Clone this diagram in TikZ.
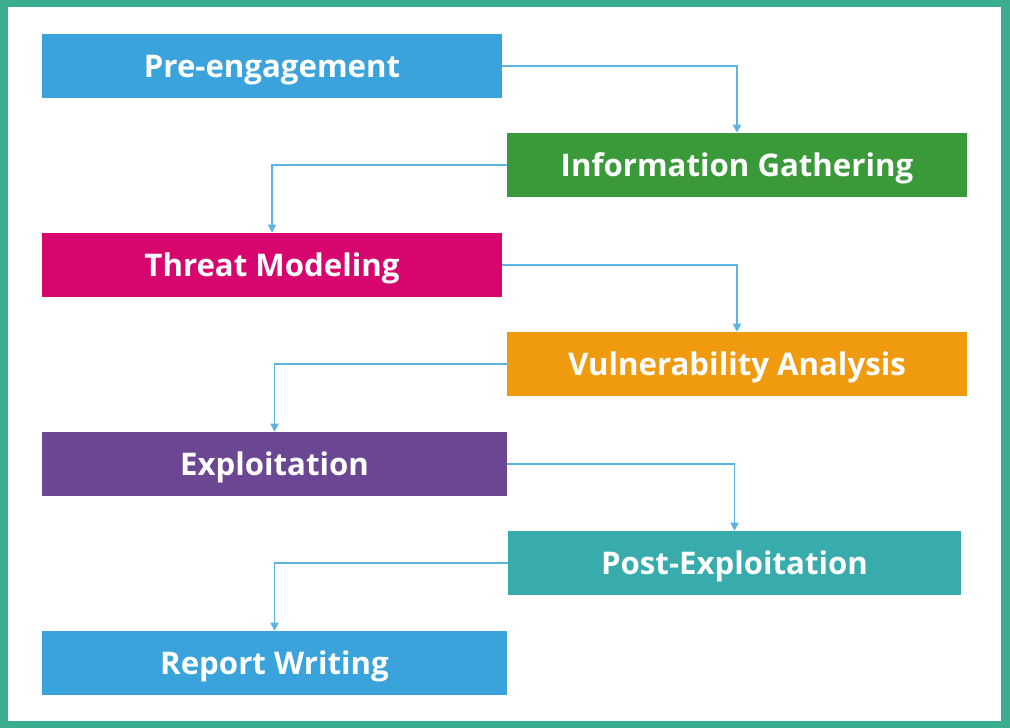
\documentclass[tikz,border=0pt]{standalone}
\usepackage{fontspec}
\setmainfont{Open Sans}
\usetikzlibrary{arrows.meta}
\definecolor{frame}{HTML}{3AAE8F}
\definecolor{cblue}{HTML}{3AA3DB}
\definecolor{cgreen}{HTML}{3A9A3A}
\definecolor{cmagenta}{HTML}{D6066E}
\definecolor{corange}{HTML}{F09A10}
\definecolor{cpurple}{HTML}{6B4793}
\definecolor{cteal}{HTML}{38ACAC}
\definecolor{cline}{HTML}{5DB3E3}
\begin{document}
\begin{tikzpicture}[x=0.75pt,y=-0.75pt,
        phase/.style={fill=#1,minimum width=345pt,minimum height=48pt,inner sep=0pt,
            text depth=0pt,text=white,font=\bfseries\fontsize{23.4}{28}\selectfont},
        link/.style={cline,line width=1.1pt,-{Triangle[length=6pt,width=6pt]}}]
        %% Frame
        \fill[frame] (0,0) rectangle (1010,728);
        \fill[white] (8,7) rectangle (1001,721);
        %% Phases
        \node[phase=cblue] (pre) at (272,66) {Pre-engagement};
        \node[phase=cgreen] (info) at (737,165) {Information Gathering};
        \node[phase=cmagenta] (threat) at (272,265) {Threat Modeling};
        \node[phase=corange] (vuln) at (737,364) {Vulnerability Analysis};
        \node[phase=cpurple,minimum width=349pt] (exploit) at (274.5,464) {Exploitation};
        \node[phase=cteal,minimum width=340pt] (post) at (734.5,563) {Post-Exploitation};
        \node[phase=cblue,minimum width=349pt] (report) at (274.5,663) {Report Writing};
        %% Links
        \draw[link] (pre.east) -| (info.north);
        \draw[link] (info.west) -| (threat.north);
        \draw[link] (threat.east) -| (vuln.north);
        \draw[link] (vuln.west) -| (exploit.north);
        \draw[link] (exploit.east) -| (post.north);
        \draw[link] (post.west) -| (report.north);
    \end{tikzpicture}
\end{document}
